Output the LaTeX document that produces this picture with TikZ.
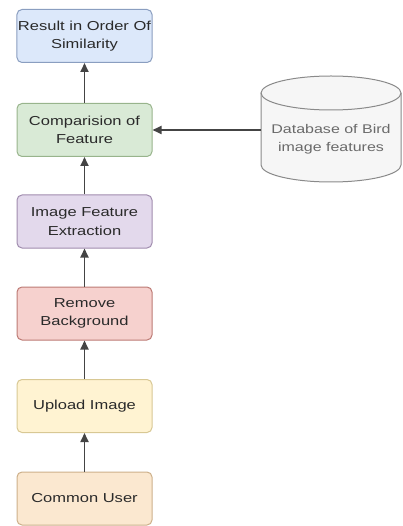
\documentclass[tikz,border=0pt]{standalone}
\usepackage{fontspec}
\setmainfont{Liberation Sans}[FakeStretch=1.27]
\usetikzlibrary{shapes.geometric,arrows.meta}

\definecolor{txt}{HTML}{2A2A2A}
\definecolor{dbtxt}{HTML}{6A6A6A}
\definecolor{wire}{HTML}{444444}
\definecolor{blueF}{HTML}{DCE8FA}\definecolor{blueD}{HTML}{8A9EC0}
\definecolor{greenF}{HTML}{D9EAD6}\definecolor{greenD}{HTML}{98B48C}
\definecolor{purpF}{HTML}{E3D9EC}\definecolor{purpD}{HTML}{A08CAE}
\definecolor{redF}{HTML}{F6D1CE}\definecolor{redD}{HTML}{BC7A74}
\definecolor{yelF}{HTML}{FFF3D2}\definecolor{yelD}{HTML}{D8C894}
\definecolor{orF}{HTML}{FBE8D0}\definecolor{orD}{HTML}{CDB08A}
\definecolor{dbF}{HTML}{F6F6F6}\definecolor{dbD}{HTML}{8A8A8A}

\tikzset{
  stage/.style={draw, rounded corners=5pt, line width=1pt, inner xsep=1pt,
    minimum width=135pt, minimum height=53pt, align=center,
    text=txt, font=\fontsize{13}{18.5}\selectfont},
  link/.style={draw=wire, line width=1.7pt,
    -{Triangle[length=9pt,width=8pt]}},
}

\begin{document}
\begin{tikzpicture}[x=1pt,y=-1pt]
\useasboundingbox (0,0) rectangle (403,526);

\node[stage, fill=blueF, draw=blueD]   (res)  at (84.5,36)  {Result in Order Of\\Similarity};
\node[stage, fill=greenF, draw=greenD] (cmp)  at (84.5,130) {Comparision of\\Feature};
\node[stage, fill=purpF, draw=purpD]   (ext)  at (84.5,221.5) {Image Feature\\Extraction};
\node[stage, fill=redF, draw=redD]     (rmb)  at (84.5,313.5) {Remove\\Background};
\node[stage, fill=yelF, draw=yelD]     (upl)  at (84.5,406) {Upload Image};
\node[stage, fill=orF, draw=orD]       (usr)  at (84.5,498.5) {Common User};

% feature database drawn as a cylinder
\begin{scope}[line width=1pt, draw=dbD]
  \fill[dbF] (261,93) -- (261,165) arc[start angle=180,end angle=360,x radius=70,y radius=-17]
     -- (401,93) arc[start angle=0,end angle=180,x radius=70,y radius=-17] -- cycle;
  \draw[dbD] (261,93) -- (261,165) arc[start angle=180,end angle=360,x radius=70,y radius=-17]
     -- (401,93);
  \draw[dbD] (331,93) ellipse[x radius=70,y radius=17];
\end{scope}
\node[text=dbtxt, align=center, font=\fontsize{12.6}{18.5}\selectfont] (db) at (331,139) {Database of Bird\\image features};
\coordinate (dbL) at (261,130);

\draw[link] (usr) -- (upl);
\draw[link] (upl) -- (rmb);
\draw[link] (rmb) -- (ext);
\draw[link] (ext) -- (cmp);
\draw[link] (cmp) -- (res);
\draw[link] (dbL) -- (cmp.east);
\end{tikzpicture}
\end{document}
